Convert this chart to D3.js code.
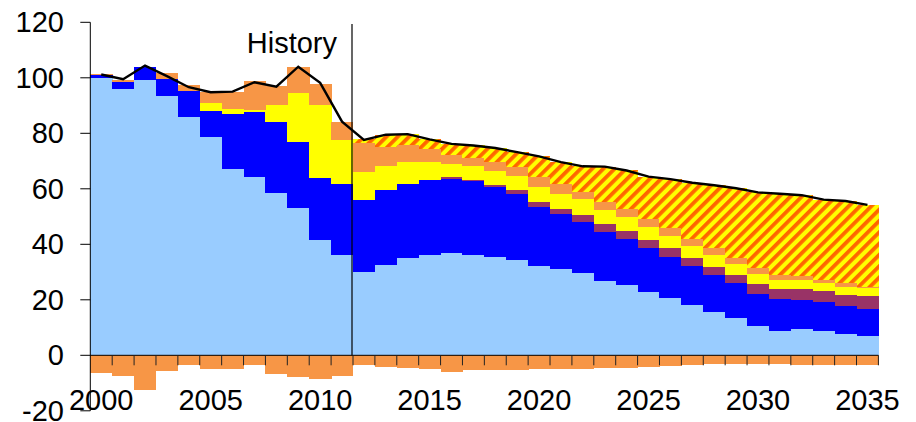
<!DOCTYPE html>
<html>
<head>
<meta charset="utf-8">
<script src="https://cdn.jsdelivr.net/npm/d3@7/dist/d3.min.js"></script>
<style>
    html, body { margin: 0; padding: 0; background: #fff; }
    #chart { width: 916px; height: 422px; }
    text { font-family: Arial, "Liberation Sans", Helvetica, sans-serif; fill: #000; }
</style>
</head>
<body>
<div id="chart"></div>
<script>
// Categories
const years = d3.range(2000, 2036);
const yTicks = [-20, 0, 20, 40, 60, 80, 100, 120];
const xLabels = [2000, 2005, 2010, 2015, 2020, 2025, 2030, 2035];
const historyLabel = "History";
const historyEnd = 2011;

// Stacked series (bottom to top)
const lightBlue = [99.8, 96.1, 99.2, 93.6, 85.9, 78.8, 67.2, 64.4, 58.5, 53.1, 41.5, 36.1,
    30.1, 32.6, 35.1, 36.1, 36.9, 36.1, 35.5, 34.3, 32.3, 31.1, 29.7, 26.9,
    25.3, 22.8, 20.8, 18.2, 15.6, 13.5, 10.6, 8.8, 9.6, 8.8, 7.7, 7.0];
const blue = [1.2, 2.5, 4.7, 6.0, 9.3, 9.2, 19.8, 23.3, 25.6, 23.8, 22.5, 25.6,
    25.9, 27.0, 26.6, 27.1, 26.8, 26.7, 25.3, 23.8, 21.3, 19.9, 18.3, 17.4,
    16.5, 16.0, 14.7, 14.1, 13.5, 12.4, 11.6, 11.6, 10.3, 10.4, 10.1, 9.7];
const purple = [0, 0, 0, 0, 0, 0, 0, 0, 0, 0, 0, 0,
    0, 0, 0, 0, 0.4, 0.5, 0.6, 1.5, 1.8, 1.8, 2.7, 2.9,
    3.0, 2.7, 3.1, 2.9, 2.8, 3.0, 3.5, 3.4, 3.9, 4.0, 3.9, 4.7];
const yellow = [0, 0, 0, 0, 0, 2.9, 1.8, 0.7, 6.1, 17.7, 26.2, 15.9,
    10.2, 8.7, 8.0, 6.3, 4.8, 5.0, 5.0, 5.0, 5.4, 5.3, 5.5, 5.2,
    4.9, 4.7, 4.4, 4.3, 4.2, 3.9, 3.6, 3.4, 3.3, 2.9, 3.0, 3.0];
const orange = [0.5, 0.6, 0, 2.1, 2.2, 4.0, 6.1, 10.4, 6.8, 9.4, 7.6, 6.6,
    10.4, 6.9, 6.2, 4.7, 3.3, 2.9, 3.4, 3.4, 3.6, 3.6, 2.8, 3.0,
    3.0, 3.0, 3.0, 2.5, 2.5, 2.4, 2.3, 1.7, 1.5, 1.0, 1.4, 0.3];
const hatched = [0, 0, 0, 0, 0, 0, 0, 0, 0, 0, 0, 0,
    1.2, 4.2, 3.8, 3.6, 4.1, 4.6, 5.0, 5.4, 7.4, 8.1, 9.2, 12.6,
    14.1, 15.2, 17.5, 20.2, 22.7, 25.0, 27.1, 29.3, 29.1, 29.0, 29.5, 29.5];

// Negative series
const negative = [-6.5, -7.3, -12.5, -5.5, -3.5, -4.8, -4.8, -3.4, -6.6, -7.7, -8.4, -7.3,
    -3.5, -4.1, -4.4, -5.0, -5.9, -5.3, -5.3, -5.3, -5.0, -5.0, -4.8, -4.6,
    -4.5, -4.1, -3.8, -3.5, -3.3, -3.3, -3.3, -3.3, -3.4, -3.4, -3.4, -3.4];

// Total line
const total = [101.2, 99.5, 104.4, 100.6, 96.6, 94.8, 95.0, 98.4, 96.8, 104.0, 98.2, 84.2,
    77.6, 79.5, 79.7, 77.8, 76.2, 75.6, 74.7, 73.2, 71.7, 69.6, 68.1, 68.0,
    66.6, 64.4, 63.5, 62.2, 61.3, 60.2, 58.7, 58.2, 57.7, 56.1, 55.6, 54.2];

// Color Mapping
const keys = ["lightBlue", "blue", "purple", "yellow", "orange", "hatched"];
const colors = {
    lightBlue: "#99ccff",
    blue: "#0000ff",
    purple: "#993366",
    yellow: "#ffff00",
    orange: "#f79646",
    hatched: "url(#hatch)"
};

const rows = years.map((yr, i) => ({
    year: yr,
    lightBlue: lightBlue[i],
    blue: blue[i],
    purple: purple[i],
    yellow: yellow[i],
    orange: orange[i],
    hatched: hatched[i],
    negative: negative[i],
    total: total[i]
}));

// Setup SVG
const width = 916;
const height = 422;
const margin = { top: 22.3, right: 37.6, bottom: 11.2, left: 90.3 };

const svg = d3.select("#chart")
    .append("svg")
    .attr("width", width)
    .attr("height", height);

// Hatch pattern
const pattern = svg.append("defs")
    .append("pattern")
    .attr("id", "hatch")
    .attr("patternUnits", "userSpaceOnUse")
    .attr("width", 8)
    .attr("height", 8)
    .attr("patternTransform", "rotate(45)");
pattern.append("rect").attr("width", 8).attr("height", 8).attr("fill", "#ffff00");
pattern.append("rect").attr("width", 3.8).attr("height", 8).attr("fill", "#ff6600");

// Scales
const x = d3.scaleBand()
    .domain(years)
    .range([margin.left, width - margin.right])
    .padding(0);

const y = d3.scaleLinear()
    .domain([-20, 120])
    .range([height - margin.bottom, margin.top]);

const stacked = d3.stack().keys(keys)(rows);

// Draw Stacked Bars
svg.append("g")
    .attr("class", "bars")
    .selectAll("g")
    .data(stacked)
    .enter().append("g")
    .attr("fill", d => colors[d.key])
    .selectAll("rect")
    .data(d => d.filter(p => p[1] - p[0] > 0))
    .enter().append("rect")
    .attr("x", d => x(d.data.year))
    .attr("y", d => y(d[1]))
    .attr("width", x.bandwidth() + 0.4)
    .attr("height", d => y(d[0]) - y(d[1]))
    .attr("shape-rendering", "crispEdges");

// Negative Bars
svg.append("g")
    .attr("class", "neg")
    .selectAll("rect")
    .data(rows)
    .enter().append("rect")
    .attr("x", d => x(d.year))
    .attr("y", y(0))
    .attr("width", x.bandwidth() + 0.4)
    .attr("height", d => y(d.negative) - y(0))
    .attr("fill", colors.orange)
    .attr("shape-rendering", "crispEdges");

// X Axis
const xAxis = svg.append("g").attr("class", "x-axis");
xAxis.append("line")
    .attr("x1", x.range()[0]).attr("x2", x.range()[1])
    .attr("y1", y(0)).attr("y2", y(0))
    .attr("stroke", "#000");
xAxis.selectAll(".tick")
    .data(years)
    .enter().append("line")
    .attr("class", "tick")
    .attr("x1", d => x(d) + x.bandwidth())
    .attr("x2", d => x(d) + x.bandwidth())
    .attr("y1", y(0))
    .attr("y2", y(0) + 10)
    .attr("stroke", "#222");
xAxis.selectAll("text")
    .data(xLabels)
    .enter().append("text")
    .attr("x", d => x(d) + x.bandwidth() / 2)
    .attr("y", 410)
    .attr("text-anchor", "middle")
    .style("font-size", "29px")
    .text(d => d);

// Y Axis
const yAxis = svg.append("g").attr("class", "y-axis");
yAxis.append("line")
    .attr("x1", margin.left).attr("x2", margin.left)
    .attr("y1", y(120)).attr("y2", y(-20))
    .attr("stroke", "#000");
yAxis.selectAll(".tick")
    .data(yTicks)
    .enter().append("line")
    .attr("x1", margin.left - 10).attr("x2", margin.left)
    .attr("y1", d => y(d)).attr("y2", d => y(d))
    .attr("stroke", "#000");
yAxis.selectAll("text")
    .data(yTicks)
    .enter().append("text")
    .attr("x", 64)
    .attr("y", d => y(d))
    .attr("dy", "0.35em")
    .attr("text-anchor", "end")
    .style("font-size", "29px")
    .text(d => d);

// History Divider
const divX = x(historyEnd) + x.bandwidth() - 1;
svg.append("line")
    .attr("x1", divX).attr("x2", divX)
    .attr("y1", 24).attr("y2", y(0))
    .attr("stroke", "#000")
    .attr("stroke-width", 1.2);
svg.append("text")
    .attr("x", divX - 15)
    .attr("y", 53)
    .attr("text-anchor", "end")
    .style("font-size", "29px")
    .text(historyLabel);

// Total Line
const line = d3.line()
    .x(d => x(d.year) + x.bandwidth() / 2)
    .y(d => y(d.total));

svg.append("path")
    .datum(rows)
    .attr("d", line)
    .attr("fill", "none")
    .attr("stroke", "#000")
    .attr("stroke-width", 2.4);
</script>
</body>
</html>
